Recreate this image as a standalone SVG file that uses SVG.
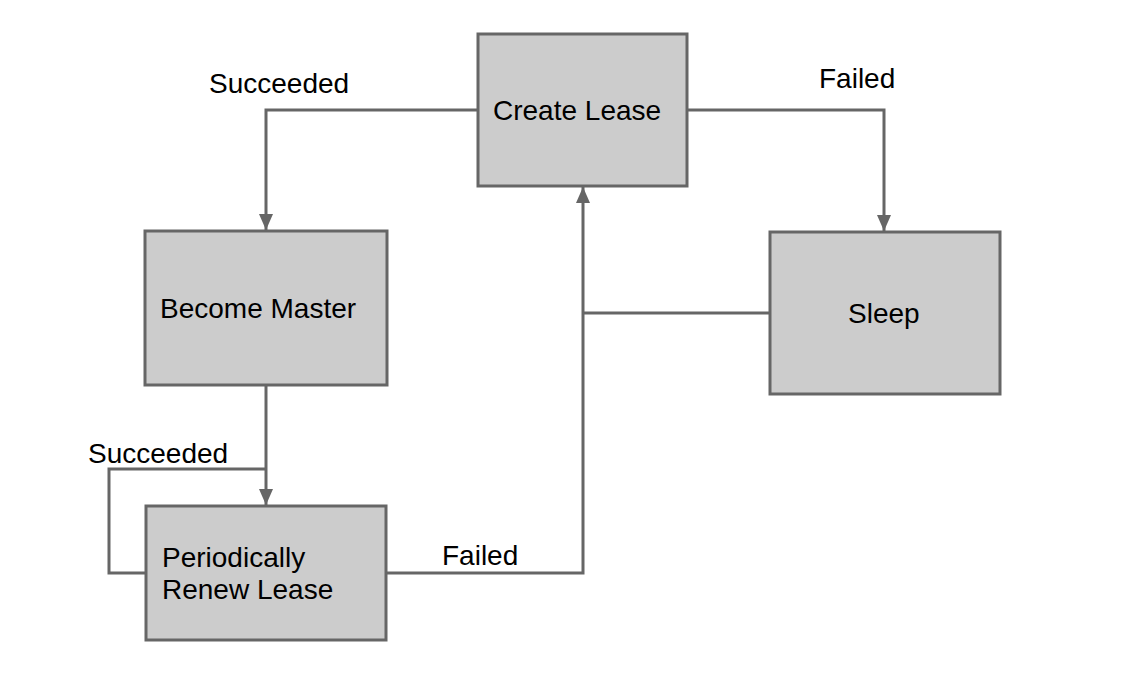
<svg xmlns="http://www.w3.org/2000/svg" width="1137" height="700" viewBox="0 0 1137 700">
<style>
.box{fill:#cccccc;stroke:#666666;stroke-width:3}
.t{font-family:"Liberation Sans",Arial,sans-serif;font-size:28px;fill:#000}
.c{fill:none;stroke:#666666;stroke-width:3}
</style>
<defs>
<marker id="ah2" markerWidth="16" markerHeight="14" viewBox="0 0 16 14" refX="16" refY="7" orient="auto" markerUnits="userSpaceOnUse">
<path d="M0,0 L16,7 L0,14 Z" fill="#666666"/>
</marker>
</defs>
<rect width="1137" height="700" fill="#ffffff"/>
<g id="connectors">
<path class="c" d="M478,110 H266 V230" marker-end="url(#ah2)"/>
<path class="c" d="M687,110 H884 V231" marker-end="url(#ah2)"/>
<path class="c" d="M770,313 H583"/>
<path class="c" d="M386,573 H583 V187" marker-end="url(#ah2)"/>
<path class="c" d="M266,385 V505" marker-end="url(#ah2)"/>
<path class="c" d="M146,573 H109 V469 H266"/>
</g>
<g id="create-lease">
<rect class="box" x="478" y="34" width="209" height="152"/>
<text class="t" x="493" y="120">Create Lease</text>
</g>
<g id="become-master">
<rect class="box" x="145" y="231" width="242" height="154"/>
<text class="t" x="160" y="318">Become Master</text>
</g>
<g id="sleep">
<rect class="box" x="770" y="232" width="230" height="162"/>
<text class="t" x="848" y="323">Sleep</text>
</g>
<g id="renew-lease">
<rect class="box" x="146" y="506" width="240" height="134"/>
<text class="t" x="162" y="567">Periodically</text>
<text class="t" x="162" y="599">Renew Lease</text>
</g>
<g id="labels">
<text class="t" x="209" y="93">Succeeded</text>
<text class="t" x="819" y="88">Failed</text>
<text class="t" x="88" y="463">Succeeded</text>
<text class="t" x="442" y="565">Failed</text>
</g>
</svg>
